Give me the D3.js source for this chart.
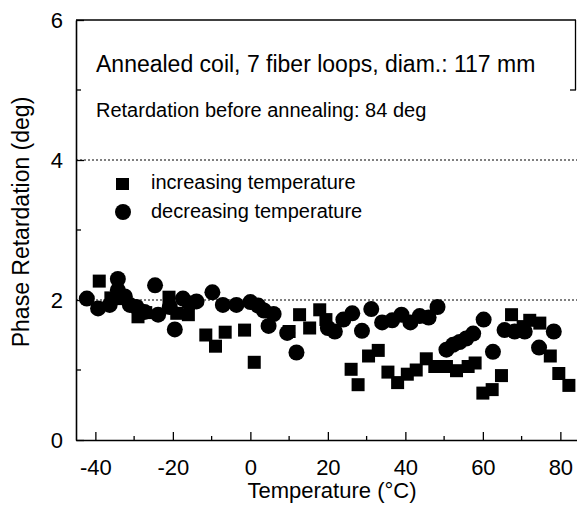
<!DOCTYPE html>
<html>
<head>
<meta charset="UTF-8">
<title>Phase Retardation</title>
<script src="https://cdn.jsdelivr.net/npm/d3@7/dist/d3.min.js"></script>
<style>
  *{margin:0;padding:0;}
  body{background:#fff;}
  svg{display:block;font-family:"Liberation Sans",Arial,sans-serif;}
</style>
</head>
<body>
<div id="chart"></div>
<script>
// increasing temperature (squares)
var incTemp = [-39,-36,-33,-29,-27,-21,-19,-16,-11.5,-9,-6.5,-1.5,1,10,12.7,15.3,17.9,19.5,
  26,27.8,30.5,33,35.5,38,40.5,42.8,45.4,47.6,50.6,53.2,56.2,58,60,62.4,64.8,67.4,70.4,72.1,74.7,77.4,79.6,82.2];
var incRet = [2.27,2.03,2.02,1.76,1.82,2.04,1.81,1.79,1.5,1.34,1.54,1.57,1.11,1.55,1.79,1.6,1.86,1.72,
  1.01,0.79,1.2,1.28,0.97,0.82,0.94,1.0,1.16,1.05,1.05,0.99,1.05,1.1,0.67,0.72,0.92,1.79,1.62,1.71,1.67,1.2,0.95,0.78];
// decreasing temperature (circles)
var decTemp = [-42.2,-39.3,-36.3,-34.2,-34.2,-32.4,-31.1,-29.4,-27.3,-24.6,-23.8,-20.8,-19.5,-17.4,-15.7,-13.9,
  -9.8,-7.1,-3.6,0,2,3.5,6,4.7,9.5,11.9,20,21.8,24,26.3,28.8,31.2,34,36.6,39,41.3,43.7,46,48.3,
  50.6,52.3,54,55.7,57.5,60.2,62.6,65.6,68.2,70.8,74.5,78.3];
var decRet = [2.02,1.88,1.93,2.30,2.14,2.05,1.93,1.9,1.83,2.21,1.79,1.9,1.58,2.02,1.95,1.98,
  2.11,1.93,1.93,1.97,1.92,1.85,1.8,1.63,1.53,1.25,1.6,1.55,1.72,1.81,1.56,1.87,1.68,1.71,1.79,1.68,1.77,1.75,1.9,
  1.29,1.36,1.40,1.45,1.52,1.72,1.26,1.57,1.55,1.55,1.32,1.55];

var xMajor = [-40,-20,0,20,40,60,80];
var xMinor = [-30,-10,10,30,50,70];
var yMajor = [0,2,4,6];
var yMinor = [1,3,5];
var gridLevels = [2,4];
var legendNames = ["increasing temperature","decreasing temperature"];
var title1 = "Annealed coil, 7 fiber loops, diam.: 117 mm";
var title2 = "Retardation before annealing: 84 deg";

var W = 577, H = 511;
var svg = d3.select("#chart").append("svg").attr("width",W).attr("height",H);

var x = d3.scaleLinear().domain([-45,84.5]).range([76,577.8]);
var y = d3.scaleLinear().domain([0,6]).range([440,20]);
// plain hyphen for negatives, like the original figure
var plain = function(d){ return String(d); };

// dotted grid lines
svg.selectAll(".grid").data(gridLevels).enter().append("line")
  .attr("x1",x(-45)).attr("x2",W)
  .attr("y1",function(d){return y(d);}).attr("y2",function(d){return y(d);})
  .attr("stroke","#000").attr("stroke-width",1).attr("stroke-dasharray","2,2");

// top frame and short right side
svg.append("line").attr("x1",x(-45)).attr("x2",W-1).attr("y1",y(6)).attr("y2",y(6))
  .attr("stroke","#000").attr("stroke-width",1.3);
svg.append("line").attr("x1",W-1.5).attr("x2",W-1.5).attr("y1",y(6)).attr("y2",y(5))
  .attr("stroke","#000").attr("stroke-width",1.3);
svg.append("line").attr("x1",W-7).attr("x2",W-1).attr("y1",y(5)).attr("y2",y(5))
  .attr("stroke","#000").attr("stroke-width",1.3);

// x axis
var gx = svg.append("g").attr("transform","translate(0,"+y(0)+")")
  .call(d3.axisBottom(x).tickValues(xMajor).tickSizeInner(-8).tickSizeOuter(0).tickPadding(19)
    .tickFormat(plain));
gx.append("g").selectAll("line").data(xMinor).enter().append("line")
  .attr("x1",function(d){return x(d);}).attr("x2",function(d){return x(d);})
  .attr("y1",0).attr("y2",-4).attr("stroke","#000").attr("stroke-width",1.3);

// y axis
var gy = svg.append("g").attr("transform","translate("+x(-45)+",0)")
  .call(d3.axisLeft(y).tickValues(yMajor).tickSizeInner(-8).tickSizeOuter(0).tickPadding(13)
    .tickFormat(plain));
gy.append("g").selectAll("line").data(yMinor).enter().append("line")
  .attr("y1",function(d){return y(d);}).attr("y2",function(d){return y(d);})
  .attr("x1",0).attr("x2",5).attr("stroke","#000").attr("stroke-width",1.3);

svg.selectAll(".domain").attr("stroke","#000").attr("stroke-width",1.6);
svg.selectAll(".tick line").attr("stroke","#000").attr("stroke-width",1.3);
svg.selectAll(".tick text").attr("fill","#000").style("font-size","22px")
  .style("font-family","'Liberation Sans',Arial,sans-serif");

// axis titles
svg.append("text").attr("x",332).attr("y",498).attr("text-anchor","middle")
  .style("font-size","22px").text("Temperature (\u00b0C)");
svg.append("text").attr("transform","translate(29,222) rotate(-90)").attr("text-anchor","middle")
  .style("font-size","23px").text("Phase Retardation (deg)");

// annotations
svg.append("text").attr("x",96).attr("y",72).style("font-size","23px").text(title1);
svg.append("text").attr("x",96).attr("y",117).style("font-size","20px").text(title2);

// legend
svg.append("rect").attr("x",116).attr("y",178).attr("width",13).attr("height",12).attr("fill","#000");
svg.append("circle").attr("cx",123).attr("cy",212).attr("r",8).attr("fill","#000");
svg.selectAll(".leg").data(legendNames).enter().append("text")
  .attr("x",151).attr("y",function(d,i){return 189+i*29;})
  .style("font-size","20px").text(function(d){return d;});

// data
var incData = incTemp.map(function(t,i){return {t:t,r:incRet[i]};});
var decData = decTemp.map(function(t,i){return {t:t,r:decRet[i]};});
var s = 13;
svg.append("g").selectAll("rect").data(incData).enter().append("rect")
  .attr("x",function(d){return x(d.t)-s/2;}).attr("y",function(d){return y(d.r)-s/2;})
  .attr("width",s).attr("height",s).attr("fill","#000");
svg.append("g").selectAll("circle").data(decData).enter().append("circle")
  .attr("cx",function(d){return x(d.t);}).attr("cy",function(d){return y(d.r);})
  .attr("r",8).attr("fill","#000");
</script>
</body>
</html>
